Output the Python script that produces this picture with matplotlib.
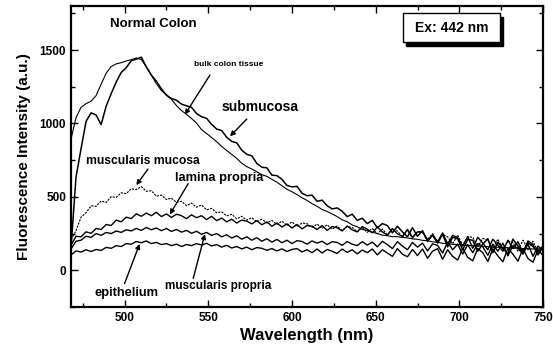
import numpy as np
import matplotlib
matplotlib.use("Agg")
import matplotlib.pyplot as plt
from matplotlib.patches import Rectangle

plt.rcParams['font.family'] = ['Liberation Sans', 'DejaVu Sans']
plt.rcParams['font.weight'] = 'bold'

# emission wavelength grid (nm)
wavelength = np.arange(468, 751, 3)

bulk_colon_tissue = [
    893, 1040, 1110, 1135, 1152, 1190, 1268, 1342, 1388, 1406,
    1414, 1426, 1434, 1446, 1436, 1386, 1328, 1272, 1224, 1196,
    1164, 1122, 1088, 1062, 1034, 1002, 958, 932, 904, 876,
    844, 816, 789, 762, 729, 706, 690, 671, 651, 640,
    620, 600, 576, 552, 535, 516, 494, 476, 454, 436,
    414, 401, 384, 366, 344, 331, 309, 296, 279, 271,
    259, 251, 239, 236, 229, 229, 224, 221, 214, 211,
    204, 201, 194, 191, 184, 181, 177, 176, 171, 171,
    167, 166, 162, 161, 157, 157, 154, 154, 150, 151,
    147, 148, 145, 147, 144]

submucosa = [
    155, 635, 828, 1015, 1072, 1058, 992, 1118, 1203, 1282,
    1348, 1380, 1428, 1438, 1452, 1385, 1330, 1288, 1236, 1192,
    1170, 1158, 1132, 1120, 1110, 1068, 1046, 1035, 994, 962,
    952, 906, 878, 868, 818, 790, 780, 728, 702, 698,
    648, 645, 620, 578, 568, 572, 525, 508, 512, 470,
    478, 440, 418, 425, 402, 366, 382, 340, 355, 318,
    340, 290, 318, 305, 255, 300, 262, 228, 290, 232,
    270, 198, 240, 185, 245, 160, 225, 215, 140, 210,
    205, 130, 178, 215, 120, 190, 150, 110, 212, 165,
    118, 200, 175, 105, 160]

muscularis_mucosa = [
    210, 270, 362, 392, 440, 436, 472, 462, 502, 496,
    528, 522, 556, 550, 570, 538, 542, 505, 512, 482,
    492, 462, 470, 440, 458, 430, 445, 412, 422, 392,
    398, 370, 382, 350, 368, 342, 358, 330, 348, 322,
    340, 312, 335, 305, 330, 298, 322, 318, 292, 315,
    285, 310, 280, 302, 270, 298, 292, 262, 290, 258,
    285, 248, 282, 240, 275, 268, 225, 272, 218, 262,
    258, 210, 250, 195, 245, 228, 180, 240, 170, 228,
    225, 160, 218, 205, 148, 212, 145, 200, 190, 130,
    205, 140, 198, 128, 170]

lamina_propria = [
    170, 232, 228, 262, 252, 285, 278, 312, 305, 342,
    330, 362, 352, 385, 368, 390, 372, 395, 366, 384,
    360, 382, 372, 352, 378, 358, 372, 345, 368, 338,
    356, 330, 348, 322, 342, 335, 316, 338, 310, 330,
    300, 322, 295, 316, 288, 312, 282, 305, 300, 278,
    305, 272, 298, 290, 268, 302, 275, 262, 298, 280,
    255, 295, 262, 240, 285, 248, 232, 278, 225, 262,
    262, 205, 240, 195, 255, 180, 238, 222, 165, 230,
    150, 225, 185, 140, 212, 172, 130, 205, 148, 195,
    120, 188, 162, 115, 170]

muscularis_propria = [
    145, 198, 205, 232, 224, 250, 238, 258, 250, 268,
    258, 276, 268, 285, 272, 292, 276, 288, 270, 285,
    265, 278, 260, 272, 252, 266, 245, 258, 238, 250,
    228, 242, 220, 235, 212, 228, 205, 222, 198, 215,
    192, 210, 188, 205, 182, 202, 196, 178, 200, 185,
    198, 175, 195, 190, 170, 196, 178, 168, 195, 172,
    192, 160, 198, 175, 148, 195, 165, 140, 190, 158,
    185, 132, 180, 170, 118, 192, 140, 178, 110, 175,
    120, 182, 160, 102, 178, 130, 185, 98, 168, 150,
    110, 178, 95, 165, 135]

epithelium = [
    105, 132, 124, 140, 128, 142, 135, 156, 150, 168,
    162, 182, 178, 196, 188, 200, 182, 190, 175, 182,
    168, 178, 162, 176, 168, 182, 172, 184, 166, 175,
    158, 170, 152, 162, 146, 158, 140, 155, 150, 136,
    148, 132, 146, 128, 142, 148, 125, 140, 120, 145,
    118, 142, 130, 115, 145, 122, 140, 112, 138, 120,
    145, 105, 140, 118, 95, 148, 110, 92, 142, 100,
    145, 82, 130, 148, 75, 140, 95, 70, 150, 88,
    65, 148, 120, 60, 145, 98, 58, 150, 110, 62,
    148, 80, 55, 140, 100]

fig = plt.figure(figsize=(5.53, 3.52), dpi=100)
ax = fig.add_axes([0.1284, 0.1278, 0.8536, 0.8551])

ax.plot(wavelength, bulk_colon_tissue, color='k', lw=0.8)
ax.plot(wavelength, submucosa, color='k', lw=1.1)
ax.plot(wavelength, muscularis_mucosa, color='k', lw=0.8, ls=(0, (2, 1)))
ax.plot(wavelength, lamina_propria, color='k', lw=1.0)
ax.plot(wavelength, muscularis_propria, color='k', lw=1.0)
ax.plot(wavelength, epithelium, color='k', lw=1.0)

ax.set_xlim(468, 750)
ax.set_ylim(-200, 1800)
ax.set_xticks([500, 550, 600, 650, 700, 750])
ax.set_xticks(np.arange(475, 751, 25), minor=True)
ax.set_yticks([0, 500, 1000, 1500])
ax.set_yticks(np.arange(-250, 1801, 250), minor=True)
ax.tick_params(which='both', direction='in', top=True, right=True, width=1.0, labelsize=8.5)
ax.tick_params(which='major', length=5)
ax.tick_params(which='minor', length=3)
for s in ax.spines.values():
    s.set_linewidth(1.6)

ax.set_xlabel('Wavelength (nm)', fontsize=12, fontweight='bold', labelpad=3)
ax.set_ylabel('Fluorescence Intensity (a.u.)', fontsize=11, fontweight='bold', labelpad=6)

ax.text(491, 1680, 'Normal Colon', fontsize=9.5, fontweight='bold', va='center', ha='left')

# excitation box with drop shadow
bx, by, bw, bh = 0.703, 0.880, 0.2055, 0.0963
ax.add_patch(Rectangle((bx + 0.0064, by - 0.0133), bw, bh, transform=ax.transAxes,
                       facecolor='k', edgecolor='k', zorder=5))
ax.add_patch(Rectangle((bx, by), bw, bh, transform=ax.transAxes,
                       facecolor='white', edgecolor='k', lw=1.0, zorder=6))
ax.text(bx + bw / 2, by + bh / 2, 'Ex: 442 nm', transform=ax.transAxes, fontsize=10,
        fontweight='bold', ha='center', va='center', zorder=7)

arrow = dict(arrowstyle='-|>', color='k', lw=1.0, mutation_scale=7, shrinkA=0, shrinkB=0)
ax.text(541.5, 1400, 'bulk colon tissue', fontsize=6, ha='left', va='center')
ax.annotate('', xy=(536, 1060), xytext=(551, 1330), arrowprops=arrow)
ax.text(558, 1113, 'submucosa', fontsize=10, ha='left', va='center')
ax.annotate('', xy=(563, 913), xytext=(573, 1030), arrowprops=arrow)
ax.text(477, 747, 'muscularis mucosa', fontsize=8.7, ha='left', va='center')
ax.annotate('', xy=(507, 580), xytext=(514, 690), arrowprops=arrow)
ax.text(530, 627, 'lamina propria', fontsize=9.3, ha='left', va='center')
ax.annotate('', xy=(527, 380), xytext=(538, 590), arrowprops=arrow)
ax.text(482, -153, 'epithelium', fontsize=9.3, ha='left', va='center')
ax.annotate('', xy=(509, 180), xytext=(500, -90), arrowprops=arrow)
ax.text(524, -107, 'muscularis propria', fontsize=8.5, ha='left', va='center')
ax.annotate('', xy=(548, 247), xytext=(541, -55), arrowprops=arrow)

fig.savefig('out.png', dpi=100)
